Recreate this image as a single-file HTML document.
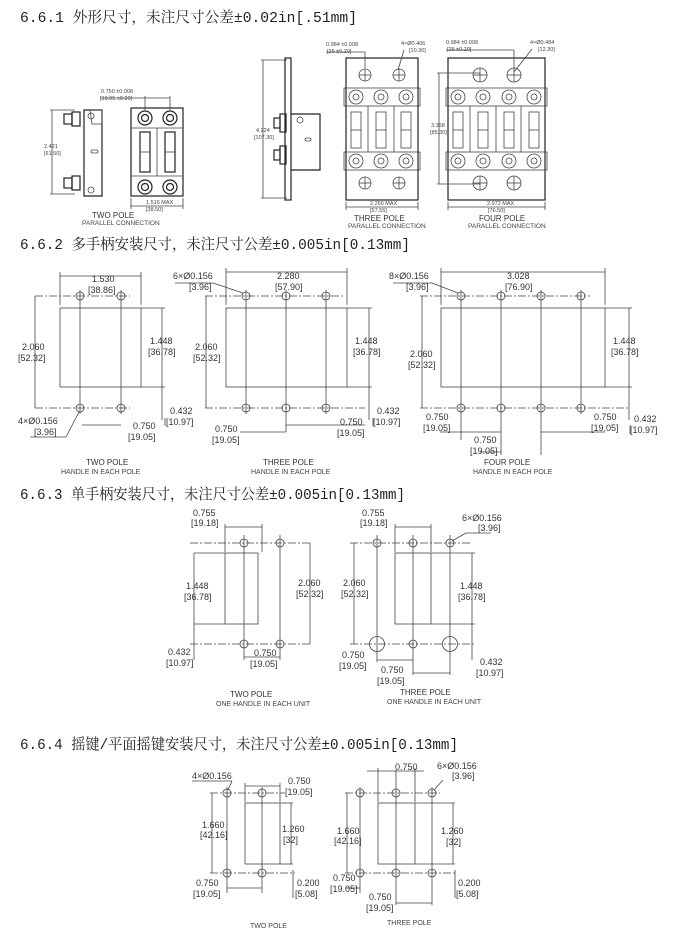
<!DOCTYPE html>
<html><head><meta charset="utf-8"><style>
html,body{margin:0;padding:0;background:#fff;}
svg{display:block;}
.h{font-family:"Liberation Mono","Noto Serif CJK SC",monospace;font-size:15px;fill:#222;}
.d{font-family:"Liberation Sans",sans-serif;font-size:9px;fill:#333;}
.s{font-family:"Liberation Sans",sans-serif;font-size:5.5px;fill:#444;}
.l{font-family:"Liberation Sans",sans-serif;font-size:8px;fill:#333;}
line,rect,circle,path,polyline{stroke:#444;fill:none;stroke-width:0.8;}
.c{stroke-dasharray:8 2 2 2;}
.k{stroke:#222;stroke-width:1.2;}
</style></head><body>
<svg width="674" height="934" viewBox="0 0 674 934" xmlns="http://www.w3.org/2000/svg">
<!-- Headings -->
<text class="h" x="20" y="22" textLength="337" lengthAdjust="spacingAndGlyphs">6.6.1 外形尺寸，未注尺寸公差±0.02in[.51mm]</text>
<text class="h" x="20" y="249" textLength="390" lengthAdjust="spacingAndGlyphs">6.6.2 多手柄安装尺寸，未注尺寸公差±0.005in[0.13mm]</text>
<text class="h" x="20" y="499" textLength="385" lengthAdjust="spacingAndGlyphs">6.6.3 单手柄安装尺寸，未注尺寸公差±0.005in[0.13mm]</text>
<text class="h" x="20" y="749" textLength="438" lengthAdjust="spacingAndGlyphs">6.6.4 摇键/平面摇键安装尺寸，未注尺寸公差±0.005in[0.13mm]</text>

<!-- ===== 6.6.1 TWO POLE ===== -->
<line x1="52" y1="110" x2="52" y2="194"/>
<line x1="50" y1="110" x2="75" y2="110"/><line x1="50" y1="194" x2="75" y2="194"/>
<text class="s" x="44" y="148">2.421</text><text class="s" x="44" y="155">[61.50]</text>
<rect class="k" x="64" y="114" width="8" height="10"/><rect class="k" x="72" y="112" width="8" height="14"/>
<rect class="k" x="64" y="178" width="8" height="10"/><rect class="k" x="72" y="176" width="8" height="14"/>
<path class="k" d="M84 110 H102 V196 H84 Z"/><path d="M90 110 H102 V124 H92 Z"/>
<circle cx="91" cy="116" r="3"/><circle cx="91" cy="190" r="3"/>
<rect x="91" y="150" width="7" height="3" rx="1.5"/>
<rect class="k" x="131" y="108" width="52" height="88"/>
<line x1="131" y1="128" x2="183" y2="128"/><line x1="131" y1="176" x2="183" y2="176"/>
<circle class="k" cx="145" cy="118" r="7"/><circle class="k" cx="145" cy="118" r="3.5"/>
<circle class="k" cx="170" cy="118" r="7"/><circle class="k" cx="170" cy="118" r="3.5"/>
<circle class="k" cx="145" cy="187" r="7"/><circle class="k" cx="145" cy="187" r="3.5"/>
<circle class="k" cx="170" cy="187" r="7"/><circle class="k" cx="170" cy="187" r="3.5"/>
<rect class="k" x="140" y="132" width="10" height="40"/><rect class="k" x="165" y="132" width="10" height="40"/>
<line x1="140" y1="152" x2="150" y2="152"/><line x1="165" y1="152" x2="175" y2="152"/>
<line x1="157" y1="128" x2="157" y2="176"/>
<line x1="145" y1="96" x2="145" y2="110"/><line x1="170" y1="96" x2="170" y2="110"/><line x1="100" y1="98" x2="170" y2="98"/>
<text class="s" x="101" y="93">0.750 ±0.008</text><text class="s" x="100" y="100">[19.05 ±0.20]</text>
<line x1="131" y1="198" x2="131" y2="209"/><line x1="183" y1="198" x2="183" y2="209"/><line x1="131" y1="206" x2="183" y2="206"/>
<text class="s" x="146" y="204">1.516 MAX</text><text class="s" x="146" y="211">[38.50]</text>
<text class="l" x="92" y="218">TWO POLE</text><text class="s" x="82" y="225" style="font-size:6.5px">PARALLEL CONNECTION</text>

<!-- ===== 6.6.1 THREE POLE side ===== -->
<line x1="263" y1="60" x2="263" y2="198"/>
<line x1="261" y1="60" x2="287" y2="60"/><line x1="261" y1="198" x2="287" y2="198"/>
<text class="s" x="256" y="132">4.224</text><text class="s" x="254" y="139">[107.30]</text>
<rect class="k" x="285" y="58" width="6" height="142"/>
<rect class="k" x="274" y="118" width="6" height="10"/><rect class="k" x="280" y="114" width="6" height="18"/>
<rect class="k" x="274" y="150" width="6" height="10"/><rect class="k" x="280" y="146" width="6" height="18"/>
<path class="k" d="M291 114 H320 V170 H291"/><circle cx="300" cy="120" r="3"/><rect x="305" y="138" width="6" height="3" rx="1.5"/>

<!-- 6.6.1 THREE POLE front -->
<rect class="k" x="346" y="58" width="72" height="142"/>
<rect x="344" y="88" width="76" height="18"/><rect x="344" y="152" width="76" height="18"/>
<circle cx="365" cy="75" r="6"/><circle cx="399" cy="75" r="6"/><circle cx="365" cy="183" r="6"/><circle cx="399" cy="183" r="6"/>
<g stroke-width="0.5"><line x1="359" y1="75" x2="371" y2="75"/><line x1="365" y1="69" x2="365" y2="81"/><line x1="393" y1="75" x2="405" y2="75"/><line x1="399" y1="69" x2="399" y2="81"/><line x1="359" y1="183" x2="371" y2="183"/><line x1="365" y1="177" x2="365" y2="189"/><line x1="393" y1="183" x2="405" y2="183"/><line x1="399" y1="177" x2="399" y2="189"/></g>
<g class="k">
<circle cx="356" cy="97" r="7"/><circle cx="356" cy="97" r="3"/><circle cx="381" cy="97" r="7"/><circle cx="381" cy="97" r="3"/><circle cx="406" cy="97" r="7"/><circle cx="406" cy="97" r="3"/>
<circle cx="356" cy="161" r="7"/><circle cx="356" cy="161" r="3"/><circle cx="381" cy="161" r="7"/><circle cx="381" cy="161" r="3"/><circle cx="406" cy="161" r="7"/><circle cx="406" cy="161" r="3"/>
<rect x="351" y="112" width="10" height="36"/><rect x="376" y="112" width="10" height="36"/><rect x="401" y="112" width="10" height="36"/>
</g>
<line x1="368" y1="106" x2="368" y2="152"/><line x1="394" y1="106" x2="394" y2="152"/>
<line x1="351" y1="130" x2="361" y2="130"/><line x1="376" y1="130" x2="386" y2="130"/><line x1="401" y1="130" x2="411" y2="130"/>
<line x1="326" y1="52" x2="365" y2="52"/><line x1="365" y1="52" x2="365" y2="68"/>
<text class="s" x="326" y="46">0.984 ±0.008</text><text class="s" x="327" y="53">[25 ±0.20]</text>
<text class="s" x="401" y="45">4×Ø0.406</text><text class="s" x="409" y="52">[10.30]</text><line x1="404" y1="50" x2="398" y2="70"/>
<line x1="346" y1="202" x2="346" y2="210"/><line x1="418" y1="202" x2="418" y2="210"/><line x1="346" y1="207" x2="418" y2="207"/>
<text class="s" x="370" y="205">2.266 MAX</text><text class="s" x="370" y="212">[57.55]</text>
<text class="l" x="354" y="221">THREE POLE</text><text class="s" x="348" y="228" style="font-size:6.5px">PARALLEL CONNECTION</text>

<!-- 6.6.1 FOUR POLE -->
<rect class="k" x="448" y="58" width="97" height="142"/>
<rect x="446" y="88" width="101" height="18"/><rect x="446" y="152" width="101" height="18"/>
<circle cx="480" cy="75" r="7"/><circle cx="514" cy="75" r="7"/><circle cx="480" cy="183" r="7"/><circle cx="514" cy="183" r="7"/>
<g stroke-width="0.5"><line x1="473" y1="75" x2="487" y2="75"/><line x1="480" y1="68" x2="480" y2="82"/><line x1="507" y1="75" x2="521" y2="75"/><line x1="514" y1="68" x2="514" y2="82"/><line x1="473" y1="183" x2="487" y2="183"/><line x1="480" y1="176" x2="480" y2="190"/><line x1="507" y1="183" x2="521" y2="183"/><line x1="514" y1="176" x2="514" y2="190"/></g>
<g class="k">
<circle cx="458" cy="97" r="7"/><circle cx="458" cy="97" r="3"/><circle cx="483" cy="97" r="7"/><circle cx="483" cy="97" r="3"/><circle cx="509" cy="97" r="7"/><circle cx="509" cy="97" r="3"/><circle cx="534" cy="97" r="7"/><circle cx="534" cy="97" r="3"/>
<circle cx="458" cy="161" r="7"/><circle cx="458" cy="161" r="3"/><circle cx="483" cy="161" r="7"/><circle cx="483" cy="161" r="3"/><circle cx="509" cy="161" r="7"/><circle cx="509" cy="161" r="3"/><circle cx="534" cy="161" r="7"/><circle cx="534" cy="161" r="3"/>
<rect x="453" y="112" width="10" height="36"/><rect x="478" y="112" width="10" height="36"/><rect x="504" y="112" width="10" height="36"/><rect x="529" y="112" width="10" height="36"/>
</g>
<line x1="470" y1="106" x2="470" y2="152"/><line x1="496" y1="106" x2="496" y2="152"/><line x1="521" y1="106" x2="521" y2="152"/>
<line x1="453" y1="130" x2="463" y2="130"/><line x1="478" y1="130" x2="488" y2="130"/><line x1="504" y1="130" x2="514" y2="130"/><line x1="529" y1="130" x2="539" y2="130"/>
<line x1="446" y1="50" x2="514" y2="50"/><line x1="514" y1="50" x2="514" y2="68"/>
<text class="s" x="446" y="44">0.984 ±0.008</text><text class="s" x="447" y="51">[25 ±0.20]</text>
<text class="s" x="530" y="44">4×Ø0.484</text><text class="s" x="538" y="51">[12.30]</text><line x1="532" y1="49" x2="514" y2="72"/>
<line x1="437" y1="73" x2="480" y2="73"/><line x1="437" y1="184" x2="480" y2="184"/><line x1="439" y1="73" x2="439" y2="184"/>
<text class="s" x="431" y="127">3.358</text><text class="s" x="430" y="134">[85.30]</text>
<line x1="448" y1="202" x2="448" y2="210"/><line x1="545" y1="202" x2="545" y2="210"/><line x1="448" y1="207" x2="545" y2="207"/>
<text class="s" x="487" y="205">2.972 MAX</text><text class="s" x="488" y="212">[76.50]</text>
<text class="l" x="479" y="221">FOUR POLE</text><text class="s" x="468" y="228" style="font-size:6.5px">PARALLEL CONNECTION</text>

<!-- ===== 6.6.2 TWO POLE ===== -->
<rect x="60" y="308" width="81" height="79"/>
<line class="c" x1="35" y1="296" x2="130" y2="296"/><line class="c" x1="35" y1="408" x2="130" y2="408"/>
<line x1="80" y1="290" x2="80" y2="414"/><line x1="121" y1="290" x2="121" y2="414"/>
<circle cx="80" cy="296" r="4"/><circle cx="121" cy="296" r="4"/><circle cx="80" cy="408" r="4"/><circle cx="121" cy="408" r="4"/>
<line x1="60" y1="276" x2="141" y2="276"/><line x1="60" y1="272" x2="60" y2="305"/><line x1="141" y1="272" x2="141" y2="305"/>
<text class="d" x="92" y="282">1.530</text><text class="d" x="88" y="293">[38.86]</text>
<line x1="35" y1="296" x2="35" y2="408"/><text class="d" x="22" y="350">2.060</text><text class="d" x="18" y="361">[52.32]</text>
<line x1="141" y1="387" x2="165" y2="387"/><line x1="162" y1="308" x2="162" y2="420"/><line x1="141" y1="308" x2="165" y2="308"/>
<text class="d" x="150" y="344">1.448</text><text class="d" x="148" y="355">[36.78]</text>
<text class="d" x="170" y="414">0.432</text><text class="d" x="166" y="425">[10.97]</text><line x1="165" y1="418" x2="165" y2="426"/>
<text class="d" x="18" y="424">4×Ø0.156</text><text class="d" x="34" y="435">[3.96]</text><line x1="30" y1="437" x2="66" y2="437"/><line x1="66" y1="437" x2="79" y2="412"/>
<line x1="82" y1="425" x2="121" y2="425"/><text class="d" x="133" y="429">0.750</text><text class="d" x="128" y="440">[19.05]</text>
<text class="l" x="86" y="465">TWO POLE</text><text class="s" x="61" y="474" style="font-size:7px">HANDLE IN EACH POLE</text>

<!-- 6.6.2 THREE POLE -->
<rect x="226" y="308" width="121" height="79"/>
<line class="c" x1="205" y1="296" x2="345" y2="296"/><line class="c" x1="205" y1="408" x2="365" y2="408"/>
<line x1="246" y1="290" x2="246" y2="414"/><line x1="286" y1="290" x2="286" y2="432"/><line x1="326" y1="290" x2="326" y2="414"/>
<circle cx="246" cy="296" r="4"/><circle cx="286" cy="296" r="4"/><circle cx="326" cy="296" r="4"/>
<circle cx="246" cy="408" r="4"/><circle cx="286" cy="408" r="4"/><circle cx="326" cy="408" r="4"/>
<line x1="226" y1="272" x2="347" y2="272"/><line x1="226" y1="268" x2="226" y2="305"/><line x1="347" y1="268" x2="347" y2="305"/>
<text class="d" x="277" y="279">2.280</text><text class="d" x="275" y="290">[57.90]</text>
<text class="d" x="173" y="279">6×Ø0.156</text><text class="d" x="189" y="290">[3.96]</text><line x1="175" y1="283" x2="213" y2="283"/><line x1="213" y1="283" x2="243" y2="293"/>
<line x1="206" y1="296" x2="206" y2="408"/><text class="d" x="195" y="350">2.060</text><text class="d" x="193" y="361">[52.32]</text>
<line x1="347" y1="308" x2="372" y2="308"/><line x1="347" y1="387" x2="372" y2="387"/><line x1="369" y1="308" x2="369" y2="420"/>
<text class="d" x="355" y="344">1.448</text><text class="d" x="353" y="355">[36.78]</text>
<text class="d" x="377" y="414">0.432</text><text class="d" x="373" y="425">[10.97]</text><line x1="373" y1="418" x2="373" y2="426"/>
<line x1="240" y1="432" x2="286" y2="432"/><text class="d" x="215" y="432">0.750</text><text class="d" x="212" y="443">[19.05]</text>
<line x1="286" y1="425" x2="365" y2="425"/><text class="d" x="340" y="425">0.750</text><text class="d" x="337" y="436">[19.05]</text>
<text class="l" x="263" y="465">THREE POLE</text><text class="s" x="251" y="474" style="font-size:7px">HANDLE IN EACH POLE</text>

<!-- 6.6.2 FOUR POLE -->
<rect x="441" y="308" width="164" height="79"/>
<line class="c" x1="420" y1="296" x2="590" y2="296"/><line class="c" x1="420" y1="408" x2="630" y2="408"/>
<line x1="461" y1="290" x2="461" y2="440"/><line x1="501" y1="290" x2="501" y2="455"/><line x1="541" y1="290" x2="541" y2="455"/><line x1="581" y1="290" x2="581" y2="414"/>
<circle cx="461" cy="296" r="4"/><circle cx="501" cy="296" r="4"/><circle cx="541" cy="296" r="4"/><circle cx="581" cy="296" r="4"/>
<circle cx="461" cy="408" r="4"/><circle cx="501" cy="408" r="4"/><circle cx="541" cy="408" r="4"/><circle cx="581" cy="408" r="4"/>
<line x1="441" y1="272" x2="605" y2="272"/><line x1="441" y1="268" x2="441" y2="305"/><line x1="605" y1="268" x2="605" y2="305"/>
<text class="d" x="507" y="279">3.028</text><text class="d" x="505" y="290">[76.90]</text>
<text class="d" x="389" y="279">8×Ø0.156</text><text class="d" x="406" y="290">[3.96]</text><line x1="393" y1="283" x2="432" y2="283"/><line x1="432" y1="283" x2="458" y2="293"/>
<line x1="422" y1="296" x2="422" y2="408"/><text class="d" x="410" y="357">2.060</text><text class="d" x="408" y="368">[52.32]</text>
<line x1="605" y1="308" x2="632" y2="308"/><line x1="605" y1="387" x2="632" y2="387"/><line x1="629" y1="308" x2="629" y2="420"/>
<text class="d" x="613" y="344">1.448</text><text class="d" x="611" y="355">[36.78]</text>
<text class="d" x="634" y="422">0.432</text><text class="d" x="630" y="433">[10.97]</text><line x1="630" y1="425" x2="630" y2="434"/>
<line x1="440" y1="432" x2="501" y2="432"/><text class="d" x="426" y="420">0.750</text><text class="d" x="423" y="431">[19.05]</text>
<line x1="541" y1="432" x2="605" y2="432"/><text class="d" x="594" y="420">0.750</text><text class="d" x="591" y="431">[19.05]</text>
<line x1="480" y1="452" x2="501" y2="452"/><text class="d" x="474" y="443">0.750</text><text class="d" x="470" y="454">[19.05]</text>
<text class="l" x="484" y="465">FOUR POLE</text><text class="s" x="473" y="474" style="font-size:7px">HANDLE IN EACH POLE</text>

<!-- ===== 6.6.3 TWO POLE ===== -->
<rect x="225" y="553" width="33" height="71"/>
<line class="c" x1="190" y1="543" x2="310" y2="543"/><line class="c" x1="190" y1="644" x2="310" y2="644"/>
<line x1="244" y1="535" x2="244" y2="660"/><line x1="280" y1="535" x2="280" y2="660"/>
<circle cx="244" cy="543" r="4"/><circle cx="280" cy="543" r="4"/><circle cx="244" cy="644" r="4"/><circle cx="280" cy="644" r="4"/>
<line x1="225" y1="527" x2="262" y2="527"/><line x1="225" y1="524" x2="225" y2="552"/><line x1="262" y1="524" x2="262" y2="552"/>
<text class="d" x="193" y="516">0.755</text><text class="d" x="191" y="526">[19.18]</text>
<line x1="194" y1="553" x2="225" y2="553"/><line x1="194" y1="624" x2="225" y2="624"/><line x1="194" y1="553" x2="194" y2="660"/>
<text class="d" x="186" y="589">1.448</text><text class="d" x="184" y="600">[36.78]</text>
<line x1="310" y1="543" x2="310" y2="644"/><text class="d" x="298" y="586">2.060</text><text class="d" x="296" y="597">[52.32]</text>
<text class="d" x="168" y="655">0.432</text><text class="d" x="166" y="666">[10.97]</text>
<line x1="244" y1="657" x2="280" y2="657"/><text class="d" x="254" y="656">0.750</text><text class="d" x="250" y="667">[19.05]</text>
<text class="l" x="230" y="697">TWO POLE</text><text class="s" x="216" y="706" style="font-size:7px">ONE HANDLE IN EACH UNIT</text>

<!-- 6.6.3 THREE POLE -->
<rect x="395" y="553" width="36" height="71"/>
<line class="c" x1="350" y1="543" x2="470" y2="543"/><line class="c" x1="350" y1="644" x2="475" y2="644"/>
<line x1="377" y1="535" x2="377" y2="662"/><line x1="413" y1="535" x2="413" y2="675"/><line x1="450" y1="535" x2="450" y2="675"/>
<circle cx="377" cy="543" r="4"/><circle cx="413" cy="543" r="4"/><circle cx="450" cy="543" r="4"/>
<circle cx="377" cy="644" r="7.5"/><circle cx="413" cy="644" r="4"/><circle cx="450" cy="644" r="7.5"/>
<line x1="395" y1="527" x2="431" y2="527"/><line x1="395" y1="524" x2="395" y2="552"/><line x1="431" y1="524" x2="431" y2="552"/>
<text class="d" x="362" y="516">0.755</text><text class="d" x="360" y="526">[19.18]</text>
<text class="d" x="462" y="521">6×Ø0.156</text><text class="d" x="478" y="531">[3.96]</text><line x1="466" y1="533" x2="491" y2="533"/><line x1="466" y1="533" x2="452" y2="541"/>
<line x1="354" y1="543" x2="354" y2="644"/><text class="d" x="343" y="586">2.060</text><text class="d" x="341" y="597">[52.32]</text>
<line x1="431" y1="553" x2="475" y2="553"/><line x1="431" y1="624" x2="475" y2="624"/><line x1="472" y1="553" x2="472" y2="660"/>
<text class="d" x="460" y="589">1.448</text><text class="d" x="458" y="600">[36.78]</text>
<text class="d" x="480" y="665">0.432</text><text class="d" x="476" y="676">[10.97]</text>
<line x1="377" y1="660" x2="413" y2="660"/><text class="d" x="342" y="658">0.750</text><text class="d" x="339" y="669">[19.05]</text>
<line x1="413" y1="673" x2="450" y2="673"/><text class="d" x="381" y="673">0.750</text><text class="d" x="377" y="684">[19.05]</text>
<text class="l" x="400" y="695">THREE POLE</text><text class="s" x="387" y="704" style="font-size:7px">ONE HANDLE IN EACH UNIT</text>

<!-- ===== 6.6.4 TWO POLE ===== -->
<rect x="245" y="803" width="35" height="61"/>
<line class="c" x1="210" y1="793" x2="285" y2="793"/><line class="c" x1="210" y1="873" x2="295" y2="873"/>
<line x1="227" y1="787" x2="227" y2="893"/><line x1="262" y1="787" x2="262" y2="893"/>
<circle cx="227" cy="793" r="4"/><circle cx="262" cy="793" r="4"/><circle cx="227" cy="873" r="4"/><circle cx="262" cy="873" r="4"/>
<text class="d" x="192" y="779">4×Ø0.156</text><line x1="192" y1="781" x2="232" y2="781"/><line x1="232" y1="781" x2="228" y2="790"/>
<line x1="245" y1="786" x2="280" y2="786"/><line x1="245" y1="783" x2="245" y2="802"/><line x1="280" y1="783" x2="280" y2="802"/>
<text class="d" x="288" y="784">0.750</text><text class="d" x="285" y="795">[19.05]</text>
<line x1="212" y1="793" x2="212" y2="873"/><text class="d" x="202" y="828">1.660</text><text class="d" x="200" y="838">[42.16]</text>
<line x1="280" y1="803" x2="293" y2="803"/><line x1="280" y1="864" x2="293" y2="864"/><line x1="291" y1="803" x2="291" y2="864"/>
<text class="d" x="282" y="832">1.260</text><text class="d" x="283" y="843">[32]</text>
<line x1="227" y1="888" x2="262" y2="888"/><text class="d" x="196" y="886">0.750</text><text class="d" x="193" y="897">[19.05]</text>
<line x1="293" y1="870" x2="293" y2="898"/><text class="d" x="297" y="886">0.200</text><text class="d" x="295" y="897">[5.08]</text>
<text class="s" x="250" y="928" style="font-size:7px">TWO POLE</text>

<!-- 6.6.4 THREE POLE -->
<rect x="378" y="803" width="37" height="61"/>
<line class="c" x1="345" y1="793" x2="440" y2="793"/><line class="c" x1="345" y1="873" x2="455" y2="873"/>
<line x1="360" y1="787" x2="360" y2="893"/><line x1="396" y1="770" x2="396" y2="905"/><line x1="432" y1="787" x2="432" y2="905"/>
<circle cx="360" cy="793" r="4"/><circle cx="396" cy="793" r="4"/><circle cx="432" cy="793" r="4"/>
<circle cx="360" cy="873" r="4"/><circle cx="396" cy="873" r="4"/><circle cx="432" cy="873" r="4"/>
<line x1="367" y1="771" x2="424" y2="771"/><line x1="378" y1="768" x2="378" y2="802"/><line x1="415" y1="768" x2="415" y2="802"/>
<text class="d" x="395" y="770">0.750</text>
<text class="d" x="437" y="769">6×Ø0.156</text><text class="d" x="452" y="779">[3.96]</text><line x1="443" y1="780" x2="434" y2="790"/>
<line x1="347" y1="793" x2="347" y2="873"/><text class="d" x="337" y="834">1.660</text><text class="d" x="334" y="844">[42.16]</text>
<line x1="415" y1="803" x2="455" y2="803"/><line x1="415" y1="864" x2="455" y2="864"/><line x1="453" y1="803" x2="453" y2="864"/>
<text class="d" x="441" y="834">1.260</text><text class="d" x="446" y="845">[32]</text>
<line x1="346" y1="888" x2="360" y2="888"/><text class="d" x="333" y="881">0.750</text><text class="d" x="330" y="892">[19.05]</text>
<line x1="396" y1="903" x2="432" y2="903"/><text class="d" x="369" y="900">0.750</text><text class="d" x="366" y="911">[19.05]</text>
<line x1="455" y1="870" x2="455" y2="898"/><text class="d" x="458" y="886">0.200</text><text class="d" x="456" y="897">[5.08]</text>
<text class="s" x="387" y="925" style="font-size:7px">THREE POLE</text>
</svg>
</body></html>
